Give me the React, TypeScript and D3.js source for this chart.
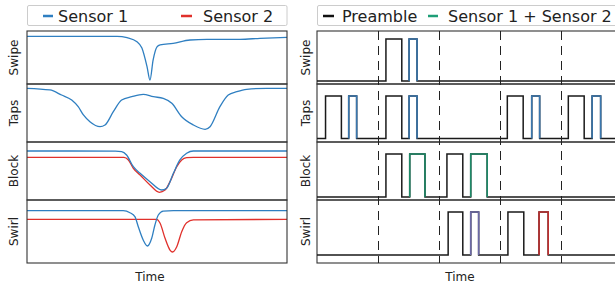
import React from 'react';
import * as d3 from 'd3';

const W = 615;
const H = 285;

// ---------- Left: raw sensor traces (time 0..100, level 0..100) ----------
const swipeT = [0, 34.6, 38.5, 42.3, 44.2, 46.2, 47.3, 48.5, 50, 51.2, 56.2, 62.7, 69.2, 81.9, 89.6, 100];
const swipeS1 = [90, 90, 87.4, 79.8, 67.9, 32, 7.5, 45, 70, 73.6, 76.8, 83, 84.3, 84.3, 86.2, 88];

const tapsT = [0, 8.8, 13.3, 17.2, 19.7, 21.7, 24.2, 28.1, 30, 33.2, 36.4, 40.3, 44.7, 48.6, 52.4, 55.7, 59.5, 64, 68.5, 70.4, 74.2, 77.4, 80.7, 84.5, 92.2, 100];
const tapsS1 = [92.6, 89.7, 81, 72.4, 60.9, 46.6, 35, 26.4, 29.3, 52.2, 72.4, 78.1, 82.2, 78.1, 75.3, 66.7, 43.6, 29.3, 21.9, 26.4, 60.9, 81, 86.7, 90.9, 92.6, 92.6];

const blockT1 = [0, 34, 36.4, 38.3, 40.9, 43.5, 47.3, 51.8, 53.7, 56.3, 58.8, 61.4, 64, 100];
const blockS1 = [84.5, 84.3, 83.5, 77.6, 57.4, 46, 31.6, 17.2, 20.2, 46, 69, 80.5, 84.5, 84.5];
const blockT2 = [0, 37.3, 39, 40.9, 43.5, 47.3, 50.9, 53.1, 55, 57.6, 59.5, 61.4, 64, 100];
const blockS2 = [73.6, 73.6, 69, 54.7, 43.1, 25.9, 13.3, 17.2, 31.6, 57.4, 69, 72.9, 73.6, 73.6];

const swirlT1 = [0, 37, 39.6, 41.5, 42.8, 44.7, 46.3, 47.96, 49.2, 50.5, 52.4, 56.3, 100];
const swirlS1 = [83, 83, 79.8, 73.5, 57.6, 36.5, 27, 39.2, 60.3, 76.2, 82.5, 83, 83];
const swirlT2 = [0, 49.9, 51.2, 53.1, 55, 56, 57.6, 59.5, 61.4, 64, 100];
const swirlS2 = [69.4, 69.4, 63, 39.2, 20.6, 17.5, 25.9, 49.7, 64, 68.3, 69.4];

const gestures = ['Swipe', 'Taps', 'Block', 'Swirl'];

// ---------- Right: encoded pulses (time in slots) ----------
const slotEdges = [1, 2, 3, 4];
const swipePreamble = [[1.13, 1.39]];
const swipeData = [{ s: 1.51, e: 1.64, kind: 'sensor1' }];
const tapsPreamble = [[0.14, 0.4], [1.13, 1.39], [3.12, 3.38], [4.12, 4.38]];
const tapsData = [
  { s: 0.52, e: 0.65, kind: 'sensor1' },
  { s: 1.51, e: 1.64, kind: 'sensor1' },
  { s: 3.52, e: 3.65, kind: 'sensor1' },
  { s: 4.51, e: 4.65, kind: 'sensor1' },
];
const blockPreamble = [[1.13, 1.39], [2.13, 2.39]];
const blockData = [
  { s: 1.52, e: 1.77, kind: 'both' },
  { s: 2.52, e: 2.79, kind: 'both' },
];
const swirlPreamble = [[2.15, 2.39], [3.13, 3.39]];
const swirlData = [
  { s: 2.52, e: 2.65, kind: 'order12' },
  { s: 3.64, e: 3.79, kind: 'sensor2' },
];

const pulseColor: Record<string, string> = {
  sensor1: '#3a77ae',
  both: '#1e8a68',
  order12: '#6c69a6',
  sensor2: '#c03030',
};

const BLUE = '#2f7fc1';
const RED = '#e0302b';
const FONT = 'DejaVu Sans, sans-serif';

const leftPanels = [
  { top: 31, bottom: 84 },
  { top: 84, bottom: 142 },
  { top: 142, bottom: 200 },
  { top: 200, bottom: 263 },
];
const rightLevels = [
  { low: 81, high: 39 },
  { low: 138.5, high: 96 },
  { low: 197, high: 154 },
  { low: 255, high: 212 },
];

const L = { x0: 27, x1: 287 };
const R = { x0: 317, x1: 622 };

export default function App() {
  const xl = d3.scaleLinear().domain([0, 100]).range([L.x0, L.x1]);
  const xr = d3.scaleLinear().domain([0, 5]).range([R.x0, R.x1]);

  const leftSeries = [
    [{ t: swipeT, v: swipeS1, c: BLUE }],
    [{ t: tapsT, v: tapsS1, c: BLUE }],
    [{ t: blockT2, v: blockS2, c: RED }, { t: blockT1, v: blockS1, c: BLUE }],
    [{ t: swirlT2, v: swirlS2, c: RED }, { t: swirlT1, v: swirlS1, c: BLUE }],
  ];
  const rightSeries = [
    { pre: swipePreamble, data: swipeData },
    { pre: tapsPreamble, data: tapsData },
    { pre: blockPreamble, data: blockData },
    { pre: swirlPreamble, data: swirlData },
  ];

  return (
    <svg width={W} height={H} style={{ position: 'absolute', left: 0, top: 0, background: '#fff' }}>
      <rect width={W} height={H} fill="#fff" />
      {/* Left legend */}
      <rect x={27.5} y={5.5} width={259.5} height={20} fill="#fff" stroke="#cccccc" strokeWidth={1} rx={1.5} />
      <line x1={43} x2={53} y1={16} y2={16} stroke={BLUE} strokeWidth={2.5} />
      <text x={58} y={22} fontFamily={FONT} fontSize={16} fill="#222">Sensor 1</text>
      <line x1={181} x2={192} y1={16} y2={16} stroke={RED} strokeWidth={2.5} />
      <text x={203} y={22} fontFamily={FONT} fontSize={16} fill="#222">Sensor 2</text>

      {/* Right legend */}
      <rect x={317.5} y={5.5} width={300} height={20} fill="#fff" stroke="#cccccc" strokeWidth={1} rx={1.5} />
      <line x1={323} x2={334} y1={16} y2={16} stroke="#111" strokeWidth={2.5} />
      <text x={342} y={22} fontFamily={FONT} fontSize={16} fill="#222">Preamble</text>
      <line x1={428} x2={438} y1={16} y2={16} stroke="#1e9e77" strokeWidth={2.5} />
      <text x={448} y={22} fontFamily={FONT} fontSize={16} fill="#222">Sensor 1 + Sensor 2</text>

      {leftPanels.map((p, i) => {
        const y = d3.scaleLinear().domain([0, 100]).range([p.bottom, p.top]);
        const line = d3
          .line<number>()
          .x((_, k) => 0)
          .curve(d3.curveMonotoneX);
        return (
          <g key={'l' + i}>
            {leftSeries[i].map((s, j) => {
              const pts: [number, number][] = s.t.map((t, k) => [xl(t), y(s.v[k])]);
              const gen = d3.line().curve(d3.curveMonotoneX);
              return <path key={j} d={gen(pts) || ''} fill="none" stroke={s.c} strokeWidth={1.3} />;
            })}
            <rect x={L.x0} y={p.top} width={L.x1 - L.x0} height={p.bottom - p.top} fill="none" stroke="#333" strokeWidth={1.1} />
            <text
              transform={`translate(14,${(p.top + p.bottom) / 2}) rotate(-90)`}
              textAnchor="middle"
              dominantBaseline="central"
              fontFamily={FONT}
              fontSize={12}
              fill="#222"
            >
              {gestures[i]}
            </text>
          </g>
        );
      })}

      {leftPanels.map((p, i) => {
        const lv = rightLevels[i];
        const y = d3.scaleLinear().domain([0, 1]).range([lv.low, lv.high]);
        const rs = rightSeries[i];
        // full step signal (preamble + data)
        const all: [number, number][] = [
          ...rs.pre.map((a) => [a[0], a[1]] as [number, number]),
          ...rs.data.map((d) => [d.s, d.e] as [number, number]),
        ].sort((a, b) => a[0] - b[0]);
        const pts: [number, number][] = [[xr(0), y(0)]];
        all.forEach(([s, e]) => {
          pts.push([xr(s), y(0)], [xr(s), y(1)], [xr(e), y(1)], [xr(e), y(0)]);
        });
        pts.push([xr(5), y(0)]);
        const gen = d3.line();
        return (
          <g key={'r' + i}>
            <rect x={R.x0} y={p.top} width={R.x1 - R.x0} height={p.bottom - p.top} fill="none" stroke="#333" strokeWidth={1.1} />
            <path d={gen(pts) || ''} fill="none" stroke="#1a1a1a" strokeWidth={1.5} />
            {rs.data.map((d, k) => {
              const pp: [number, number][] = [
                [xr(d.s), y(0)],
                [xr(d.s), y(1)],
                [xr(d.e), y(1)],
                [xr(d.e), y(0)],
              ];
              return <path key={k} d={gen(pp) || ''} fill="none" stroke={pulseColor[d.kind]} strokeWidth={1.6} />;
            })}
            <text
              transform={`translate(306,${(p.top + p.bottom) / 2}) rotate(-90)`}
              textAnchor="middle"
              dominantBaseline="central"
              fontFamily={FONT}
              fontSize={12}
              fill="#222"
            >
              {gestures[i]}
            </text>
          </g>
        );
      })}

      {slotEdges.map((s, i) => (
        <line
          key={'d' + i}
          x1={Math.round(xr(s)) + 0.5}
          x2={Math.round(xr(s)) + 0.5}
          y1={31}
          y2={263}
          stroke="#222"
          strokeWidth={1}
          strokeDasharray="9,6"
        />
      ))}

      <text x={150} y={281} textAnchor="middle" fontFamily={FONT} fontSize={12} fill="#222">Time</text>
      <text x={460} y={281} textAnchor="middle" fontFamily={FONT} fontSize={12} fill="#222">Time</text>
    </svg>
  );
}
